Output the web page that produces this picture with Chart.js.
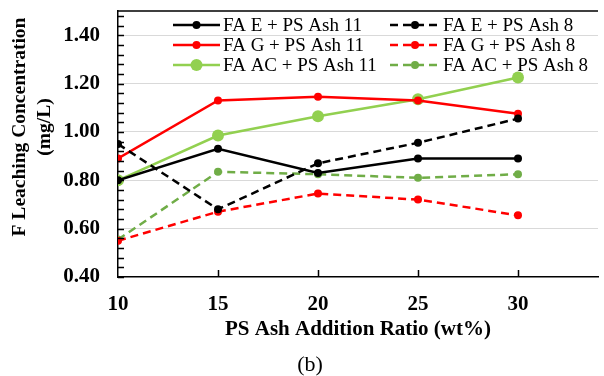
<!DOCTYPE html>
<html>
<head>
<meta charset="utf-8">
<script src="https://cdn.jsdelivr.net/npm/chart.js@4.4.1/dist/chart.umd.min.js"></script>
<style>
  html, body { margin: 0; padding: 0; background: #fff; }
  #wrap { width: 604px; height: 376px; }
</style>
</head>
<body>
<div id="wrap"><canvas id="chart" width="604" height="376"></canvas></div>
<script>
// PS ash addition ratio (wt%)
const ratios = [10, 15, 20, 25, 30];
// F leaching concentration (mg/L)
const faE11 = [0.80, 0.93, 0.83, 0.89, 0.89];
const faE8 = [0.95, 0.68, 0.87, 0.955, 1.055];
const faG11 = [0.89, 1.13, 1.145, 1.13, 1.075];
const faG8 = [0.55, 0.67, 0.745, 0.72, 0.655];
const faAC11 = [0.80, 0.985, 1.065, 1.135, 1.225];
const faAC8 = [0.555, 0.835, 0.825, 0.81, 0.825];

const xTicks = [10, 15, 20, 25, 30];
const yTicks = [0.4, 0.6, 0.8, 1.0, 1.2, 1.4];
const yMinorStep = 0.04;

const SERIF = "'Liberation Serif', 'Times New Roman', serif";
const GREEN = "#92d050";
const GREEN_D = "#70ad47";

function series(label, vals, color, dashed, r) {
  return {
    label,
    data: ratios.map((x, i) => ({ x, y: vals[i] })),
    borderColor: color,
    backgroundColor: color,
    borderWidth: 2.5,
    borderDash: dashed ? [8, 5] : [],
    pointRadius: r,
    pointHoverRadius: r,
    pointBorderWidth: 0,
    tension: 0
  };
}

const datasets = [
  series("FA E + PS Ash 11", faE11, "#000000", false, 4),
  series("FA E + PS Ash 8", faE8, "#000000", true, 4),
  series("FA G + PS Ash 11", faG11, "#ff0000", false, 4),
  series("FA G + PS Ash 8", faG8, "#ff0000", true, 4),
  series("FA AC + PS Ash 11", faAC11, GREEN, false, 6),
  series("FA AC + PS Ash 8", faAC8, GREEN_D, true, 4)
];

// legend, inside ticks, top frame line, y title and (b)
const extras = {
  id: "extras",
  afterDraw(chart) {
    const ctx = chart.ctx;
    const a = chart.chartArea;
    const xs = chart.scales.x, ys = chart.scales.y;
    ctx.save();
    ctx.strokeStyle = "#000";
    ctx.lineWidth = 1.5;
    ctx.beginPath();
    ctx.moveTo(a.left, a.top);
    ctx.lineTo(a.right, a.top);
    for (let v = ys.min; v <= ys.max + 1e-9; v += yMinorStep) {
      const y = Math.round(ys.getPixelForValue(v)) + 0.5;
      ctx.moveTo(a.left, y);
      ctx.lineTo(a.left + 6, y);
    }
    xTicks.slice(1).forEach(v => {
      const x = Math.round(xs.getPixelForValue(v)) + 0.5;
      ctx.moveTo(x, a.bottom);
      ctx.lineTo(x, a.bottom - 7);
    });
    ctx.stroke();

    // legend
    const colX = [[173, 220, 223], [390, 440, 443]];
    const rowY = [25, 45, 65];
    ctx.font = "19px " + SERIF;
    ctx.textBaseline = "middle";
    ctx.textAlign = "left";
    chart.data.datasets.forEach((d, i) => {
      const [x0, x1, tx] = colX[i % 2];
      const y = rowY[Math.floor(i / 2)];
      ctx.strokeStyle = d.borderColor;
      ctx.lineWidth = d.borderWidth;
      ctx.setLineDash(d.borderDash);
      ctx.beginPath();
      ctx.moveTo(x0, y);
      ctx.lineTo(x1, y);
      ctx.stroke();
      ctx.setLineDash([]);
      ctx.fillStyle = d.backgroundColor;
      ctx.beginPath();
      ctx.arc((x0 + x1) / 2, y, d.pointRadius, 0, Math.PI * 2);
      ctx.fill();
      ctx.fillStyle = "#000";
      ctx.fillText(d.label, tx, y + 1);
    });

    // y axis title
    ctx.save();
    ctx.translate(32, 127);
    ctx.rotate(-Math.PI / 2);
    ctx.font = "bold 19.5px " + SERIF;
    ctx.textAlign = "center";
    ctx.fillText("F Leaching Concentration", 0, -12);
    ctx.fillText("(mg/L)", 0, 13);
    ctx.restore();

    ctx.font = "22px " + SERIF;
    ctx.textAlign = "center";
    ctx.fillText("(b)", 310, 365);
    ctx.restore();
  }
};

new Chart(document.getElementById("chart"), {
  type: "line",
  data: { datasets },
  plugins: [extras],
  options: {
    responsive: false,
    devicePixelRatio: 1,
    animation: false,
    layout: { padding: { top: 11, right: 0, bottom: 36, left: 0 } },
    plugins: { legend: { display: false }, tooltip: { enabled: false } },
    scales: {
      x: {
        type: "linear",
        min: 10,
        max: 34,
        afterBuildTicks: s => { s.ticks = xTicks.map(value => ({ value })); },
        afterFit: s => { s.height = 63; s.paddingLeft = 0; s.paddingRight = 0; },
        grid: { display: false, drawTicks: false },
        border: { color: "#000", width: 1.5 },
        ticks: {
          padding: 15,
          color: "#000",
          font: { family: SERIF, size: 21, weight: "bold" }
        },
        title: {
          display: true,
          text: "PS Ash Addition Ratio (wt%)",
          color: "#000",
          padding: { top: 0, bottom: 0 },
          font: { family: SERIF, size: 21, weight: "bold", lineHeight: 1 }
        }
      },
      y: {
        min: 0.4,
        max: 1.5,
        afterBuildTicks: s => { s.ticks = yTicks.map(value => ({ value })); },
        afterFit: s => { s.width = 118; s.paddingTop = 0; s.paddingBottom = 0; },
        grid: {
          drawTicks: false,
          color: c => (c.tick && c.tick.value > 0.41 ? "#d9d9d9" : "rgba(0,0,0,0)"),
          lineWidth: 1
        },
        border: { color: "#000", width: 1.5 },
        ticks: {
          padding: 18,
          color: "#000",
          font: { family: SERIF, size: 21, weight: "bold" },
          callback: v => Number(v).toFixed(2)
        }
      }
    }
  }
});
</script>
</body>
</html>
